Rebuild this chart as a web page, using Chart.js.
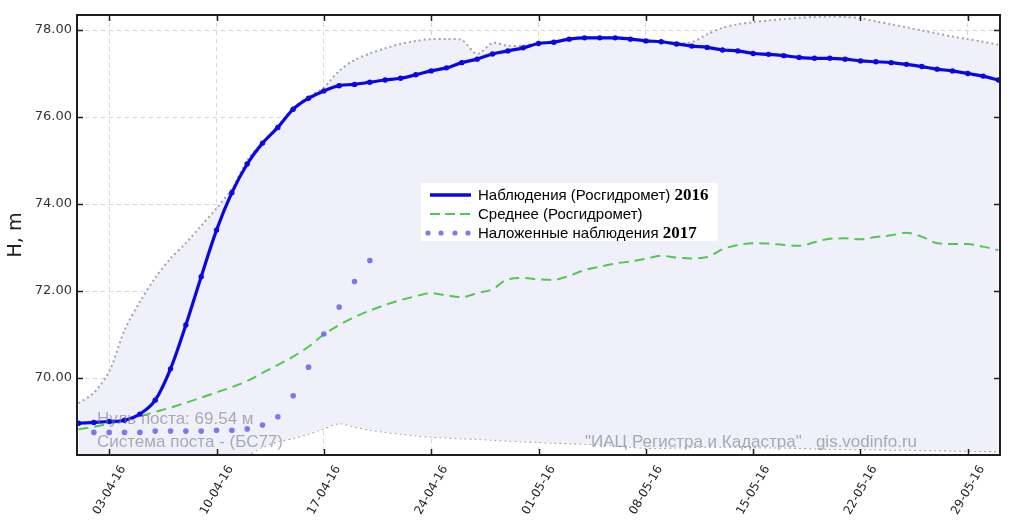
<!DOCTYPE html>
<html>
<head>
<meta charset="utf-8">
<script src="https://cdn.jsdelivr.net/npm/chart.js@4.4.1/dist/chart.umd.min.js"></script>
<style>
html, body { margin: 0; padding: 0; background: #fff; }
#wrap { width: 1024px; height: 524px; position: relative; }
</style>
</head>
<body>
<div id="wrap"><canvas id="levelChart" width="1024" height="524"></canvas></div>
<script>
// day index 0 = 01-04-16 ... 60 = 31-05-16
const xTickDays = [2, 9, 16, 23, 30, 37, 44, 51, 58];
const xTickLabels = ['03-04-16', '10-04-16', '17-04-16', '24-04-16', '01-05-16', '08-05-16', '15-05-16', '22-05-16', '29-05-16'];
const yTicks = [70, 72, 74, 76, 78];

// Наблюдения (Росгидромет) 2016
const obs2016 = [
    68.96, 68.98, 69.00, 69.03, 69.17, 69.49, 70.21, 71.22, 72.33, 73.40,
    74.26, 74.92, 75.40, 75.76, 76.18, 76.43, 76.60, 76.72, 76.75, 76.80,
    76.85, 76.89, 76.97, 77.06, 77.13, 77.25, 77.33, 77.45, 77.52, 77.59,
    77.69, 77.72, 77.79, 77.82, 77.82, 77.82, 77.79, 77.75, 77.73, 77.68,
    77.63, 77.60, 77.54, 77.52, 77.46, 77.44, 77.41, 77.37, 77.35, 77.35,
    77.33, 77.29, 77.27, 77.25, 77.21, 77.16, 77.10, 77.06, 77.00, 76.94,
    76.85
];

// Среднее (Росгидромет)
const meanLevel = [
    68.82, 68.88, 68.95, 69.03, 69.12, 69.22, 69.32, 69.43, 69.55, 69.67,
    69.79, 69.93, 70.12, 70.30, 70.49, 70.72, 71.00, 71.22, 71.40, 71.55,
    71.68, 71.79, 71.88, 71.95, 71.90, 71.86, 71.95, 72.04, 72.27, 72.30,
    72.27, 72.26, 72.35, 72.48, 72.56, 72.63, 72.68, 72.74, 72.81, 72.77,
    72.75, 72.78, 72.96, 73.06, 73.10, 73.09, 73.06, 73.04, 73.12, 73.20,
    73.21, 73.19, 73.24, 73.28, 73.34, 73.25, 73.10, 73.08, 73.08, 73.02,
    72.94
];

// Наложенные наблюдения 2017 (from 01-04)
const obs2017 = [
    null, 68.75, 68.75, 68.75, 68.75, 68.78, 68.78, 68.78, 68.78, 68.80,
    68.80, 68.83, 68.92, 69.11, 69.59, 70.25, 71.01, 71.63, 72.22, 72.70
];

// historical max / min envelope
const envUpper = [
    69.42, 69.66, 70.15, 71.10, 71.75, 72.30, 72.75, 73.10, 73.50, 73.90,
    74.35, 75.00, 75.42, 75.80, 76.20, 76.46, 76.68, 77.06, 77.31, 77.46,
    77.58, 77.68, 77.75, 77.79, 77.79, 77.77, 77.45, 77.70, 77.64, 77.64,
    77.70, 77.73, 77.80, 77.83, 77.83, 77.83, 77.80, 77.76, 77.74, 77.70,
    77.72, 77.90, 78.05, 78.13, 78.18, 78.22, 78.25, 78.28, 78.30, 78.31,
    78.30, 78.27, 78.20, 78.13, 78.06, 77.99, 77.92, 77.85, 77.79, 77.73,
    77.66
];
const envLower = [
    67.90, 67.90, 67.90, 67.90, 67.92, 67.94, 67.96, 67.98, 68.00, 68.02,
    68.05, 68.22, 68.42, 68.54, 68.62, 68.72, 68.84, 68.96, 68.88, 68.81,
    68.76, 68.72, 68.68, 68.65, 68.63, 68.61, 68.60, 68.58, 68.56, 68.54,
    68.53, 68.51, 68.50, 68.49, 68.47, 68.45, 68.42, 68.39, 68.39, 68.40,
    68.41, 68.42, 68.42, 68.42, 68.41, 68.40, 68.40, 68.39, 68.38, 68.37,
    68.37, 68.36, 68.36, 68.35, 68.35, 68.34, 68.34, 68.33, 68.33, 68.32,
    68.31
];

const legendItems = [
    { text: 'Наблюдения (Росгидромет)', bold: '2016', kind: 'line' },
    { text: 'Среднее (Росгидромет)', bold: '', kind: 'dash' },
    { text: 'Наложенные наблюдения', bold: '2017', kind: 'dots' }
];

const BLUE = '#0808e6';
const GREEN = '#4ccb4c';
const DOTS = 'rgba(100,100,236,0.85)';
const ENV_LINE = '#a2a2b4';

function toPoints(arr) {
    return arr.map((v, i) => ({ x: i, y: v }));
}

// frame, inward ticks, legend box
const framePlugin = {
    id: 'framePlugin',
    afterDraw(chart) {
        const { ctx, chartArea: a, scales: { x, y } } = chart;
        ctx.save();
        ctx.strokeStyle = '#1e1e1e';
        ctx.lineWidth = 1.5;
        ctx.beginPath();
        xTickDays.forEach(d => {
            const px = Math.round(x.getPixelForValue(d)) + 0.5;
            ctx.moveTo(px, a.bottom); ctx.lineTo(px, a.bottom - 6);
            ctx.moveTo(px, a.top); ctx.lineTo(px, a.top + 6);
        });
        yTicks.forEach(v => {
            const py = Math.round(y.getPixelForValue(v)) + 0.5;
            ctx.moveTo(a.left, py); ctx.lineTo(a.left + 6, py);
            ctx.moveTo(a.right, py); ctx.lineTo(a.right - 6, py);
        });
        ctx.stroke();
        ctx.lineWidth = 2;
        ctx.strokeRect(a.left, a.top, a.right - a.left, a.bottom - a.top);

        // legend
        const lx = 421, ly = 183;
        ctx.fillStyle = '#fff';
        ctx.fillRect(lx, ly, 297, 58);
        const rows = [195, 214, 233];
        legendItems.forEach((item, i) => {
            const ry = rows[i];
            if (item.kind === 'line') {
                ctx.strokeStyle = BLUE; ctx.lineWidth = 3.5; ctx.setLineDash([]);
                ctx.beginPath(); ctx.moveTo(430, ry); ctx.lineTo(471, ry); ctx.stroke();
            } else if (item.kind === 'dash') {
                ctx.strokeStyle = GREEN; ctx.lineWidth = 2; ctx.setLineDash([10, 5]);
                ctx.beginPath(); ctx.moveTo(430, ry); ctx.lineTo(472, ry); ctx.stroke();
                ctx.setLineDash([]);
            } else {
                ctx.fillStyle = DOTS;
                [428, 441, 455, 468].forEach(cx => {
                    ctx.beginPath(); ctx.arc(cx, ry, 2.6, 0, Math.PI * 2); ctx.fill();
                });
            }
            ctx.fillStyle = '#000';
            ctx.textBaseline = 'alphabetic';
            ctx.textAlign = 'left';
            ctx.font = '15px "Liberation Sans", Arial, sans-serif';
            ctx.fillText(item.text, 478, ry + 5);
            if (item.bold) {
                const w = ctx.measureText(item.text + ' ').width;
                ctx.font = 'bold 17px "Liberation Serif", "Times New Roman", serif';
                ctx.fillText(item.bold, 478 + w, ry + 5);
            }
        });
        ctx.restore();
    }
};

// post info and watermark
const notesPlugin = {
    id: 'notesPlugin',
    afterDatasetsDraw(chart) {
        const { ctx } = chart;
        ctx.save();
        ctx.fillStyle = 'rgba(125,125,135,0.62)';
        ctx.font = '17px "Liberation Sans", Arial, sans-serif';
        ctx.textAlign = 'left';
        ctx.textBaseline = 'alphabetic';
        ctx.fillText('Нуль поста: 69.54 м', 97, 424);
        ctx.fillText('Система поста - (БС77)', 97, 447);
        ctx.fillText('"ИАЦ Регистра и Кадастра"   gis.vodinfo.ru', 585, 447);
        ctx.restore();
    }
};

const ctx = document.getElementById('levelChart').getContext('2d');
const levelChart = new Chart(ctx, {
    type: 'line',
    data: {
        datasets: [
            {
                label: 'Наблюдения (Росгидромет) 2016',
                data: toPoints(obs2016),
                borderColor: BLUE,
                backgroundColor: BLUE,
                borderWidth: 3.2,
                pointRadius: 2.7,
                pointBorderWidth: 0,
                cubicInterpolationMode: 'monotone',
                order: 1
            },
            {
                label: 'Наложенные наблюдения 2017',
                data: toPoints(obs2017),
                showLine: false,
                borderColor: DOTS,
                backgroundColor: DOTS,
                pointRadius: 2.8,
                pointBorderWidth: 0,
                order: 2
            },
            {
                label: 'Среднее (Росгидромет)',
                data: toPoints(meanLevel),
                borderColor: GREEN,
                borderWidth: 2,
                borderDash: [10, 6],
                pointRadius: 0,
                cubicInterpolationMode: 'monotone',
                order: 3
            },
            {
                label: 'max',
                data: toPoints(envUpper),
                borderColor: ENV_LINE,
                borderWidth: 2,
                borderDash: [2, 3],
                pointRadius: 0,
                tension: 0.3,
                fill: 4,
                backgroundColor: '#f0f0fa',
                order: 4
            },
            {
                label: 'min',
                data: toPoints(envLower),
                borderColor: ENV_LINE,
                borderWidth: 2,
                borderDash: [2, 3],
                pointRadius: 0,
                tension: 0.3,
                order: 5
            }
        ]
    },
    options: {
        responsive: false,
        animation: false,
        events: [],
        layout: { padding: { top: 15, right: 24, left: 0, bottom: 0 } },
        plugins: {
            legend: { display: false },
            tooltip: { enabled: false }
        },
        scales: {
            x: {
                type: 'linear',
                min: -0.1,
                max: 60.1,
                afterBuildTicks: scale => {
                    scale.ticks = xTickDays.map(v => ({ value: v }));
                },
                afterFit: scale => { scale.height = 69; },
                grid: {
                    color: 'rgba(0,0,0,0.16)',
                    lineWidth: 1,
                    drawTicks: false
                },
                border: { display: false, dash: [4, 4] },
                ticks: {
                    autoSkip: false,
                    minRotation: 60,
                    maxRotation: 60,
                    padding: 8,
                    labelOffset: 14,
                    color: '#222',
                    font: { family: '"DejaVu Sans", sans-serif', size: 12 },
                    callback: value => xTickLabels[xTickDays.indexOf(value)] || ''
                }
            },
            y: {
                type: 'linear',
                min: 68.23,
                max: 78.345,
                afterBuildTicks: scale => {
                    scale.ticks = yTicks.map(v => ({ value: v }));
                },
                afterFit: scale => { scale.width = 77; },
                grid: {
                    color: 'rgba(0,0,0,0.16)',
                    lineWidth: 1,
                    drawTicks: false
                },
                border: { display: false, dash: [4, 4] },
                ticks: {
                    padding: 5,
                    color: '#333',
                    font: { family: '"DejaVu Sans", sans-serif', size: 13 },
                    callback: value => value.toFixed(2)
                },
                title: {
                    display: true,
                    text: 'H, m',
                    color: '#222',
                    font: { family: '"DejaVu Sans", sans-serif', size: 19 },
                    padding: { top: 5, bottom: 0 }
                }
            }
        }
    },
    plugins: [framePlugin, notesPlugin]
});
</script>
</body>
</html>
